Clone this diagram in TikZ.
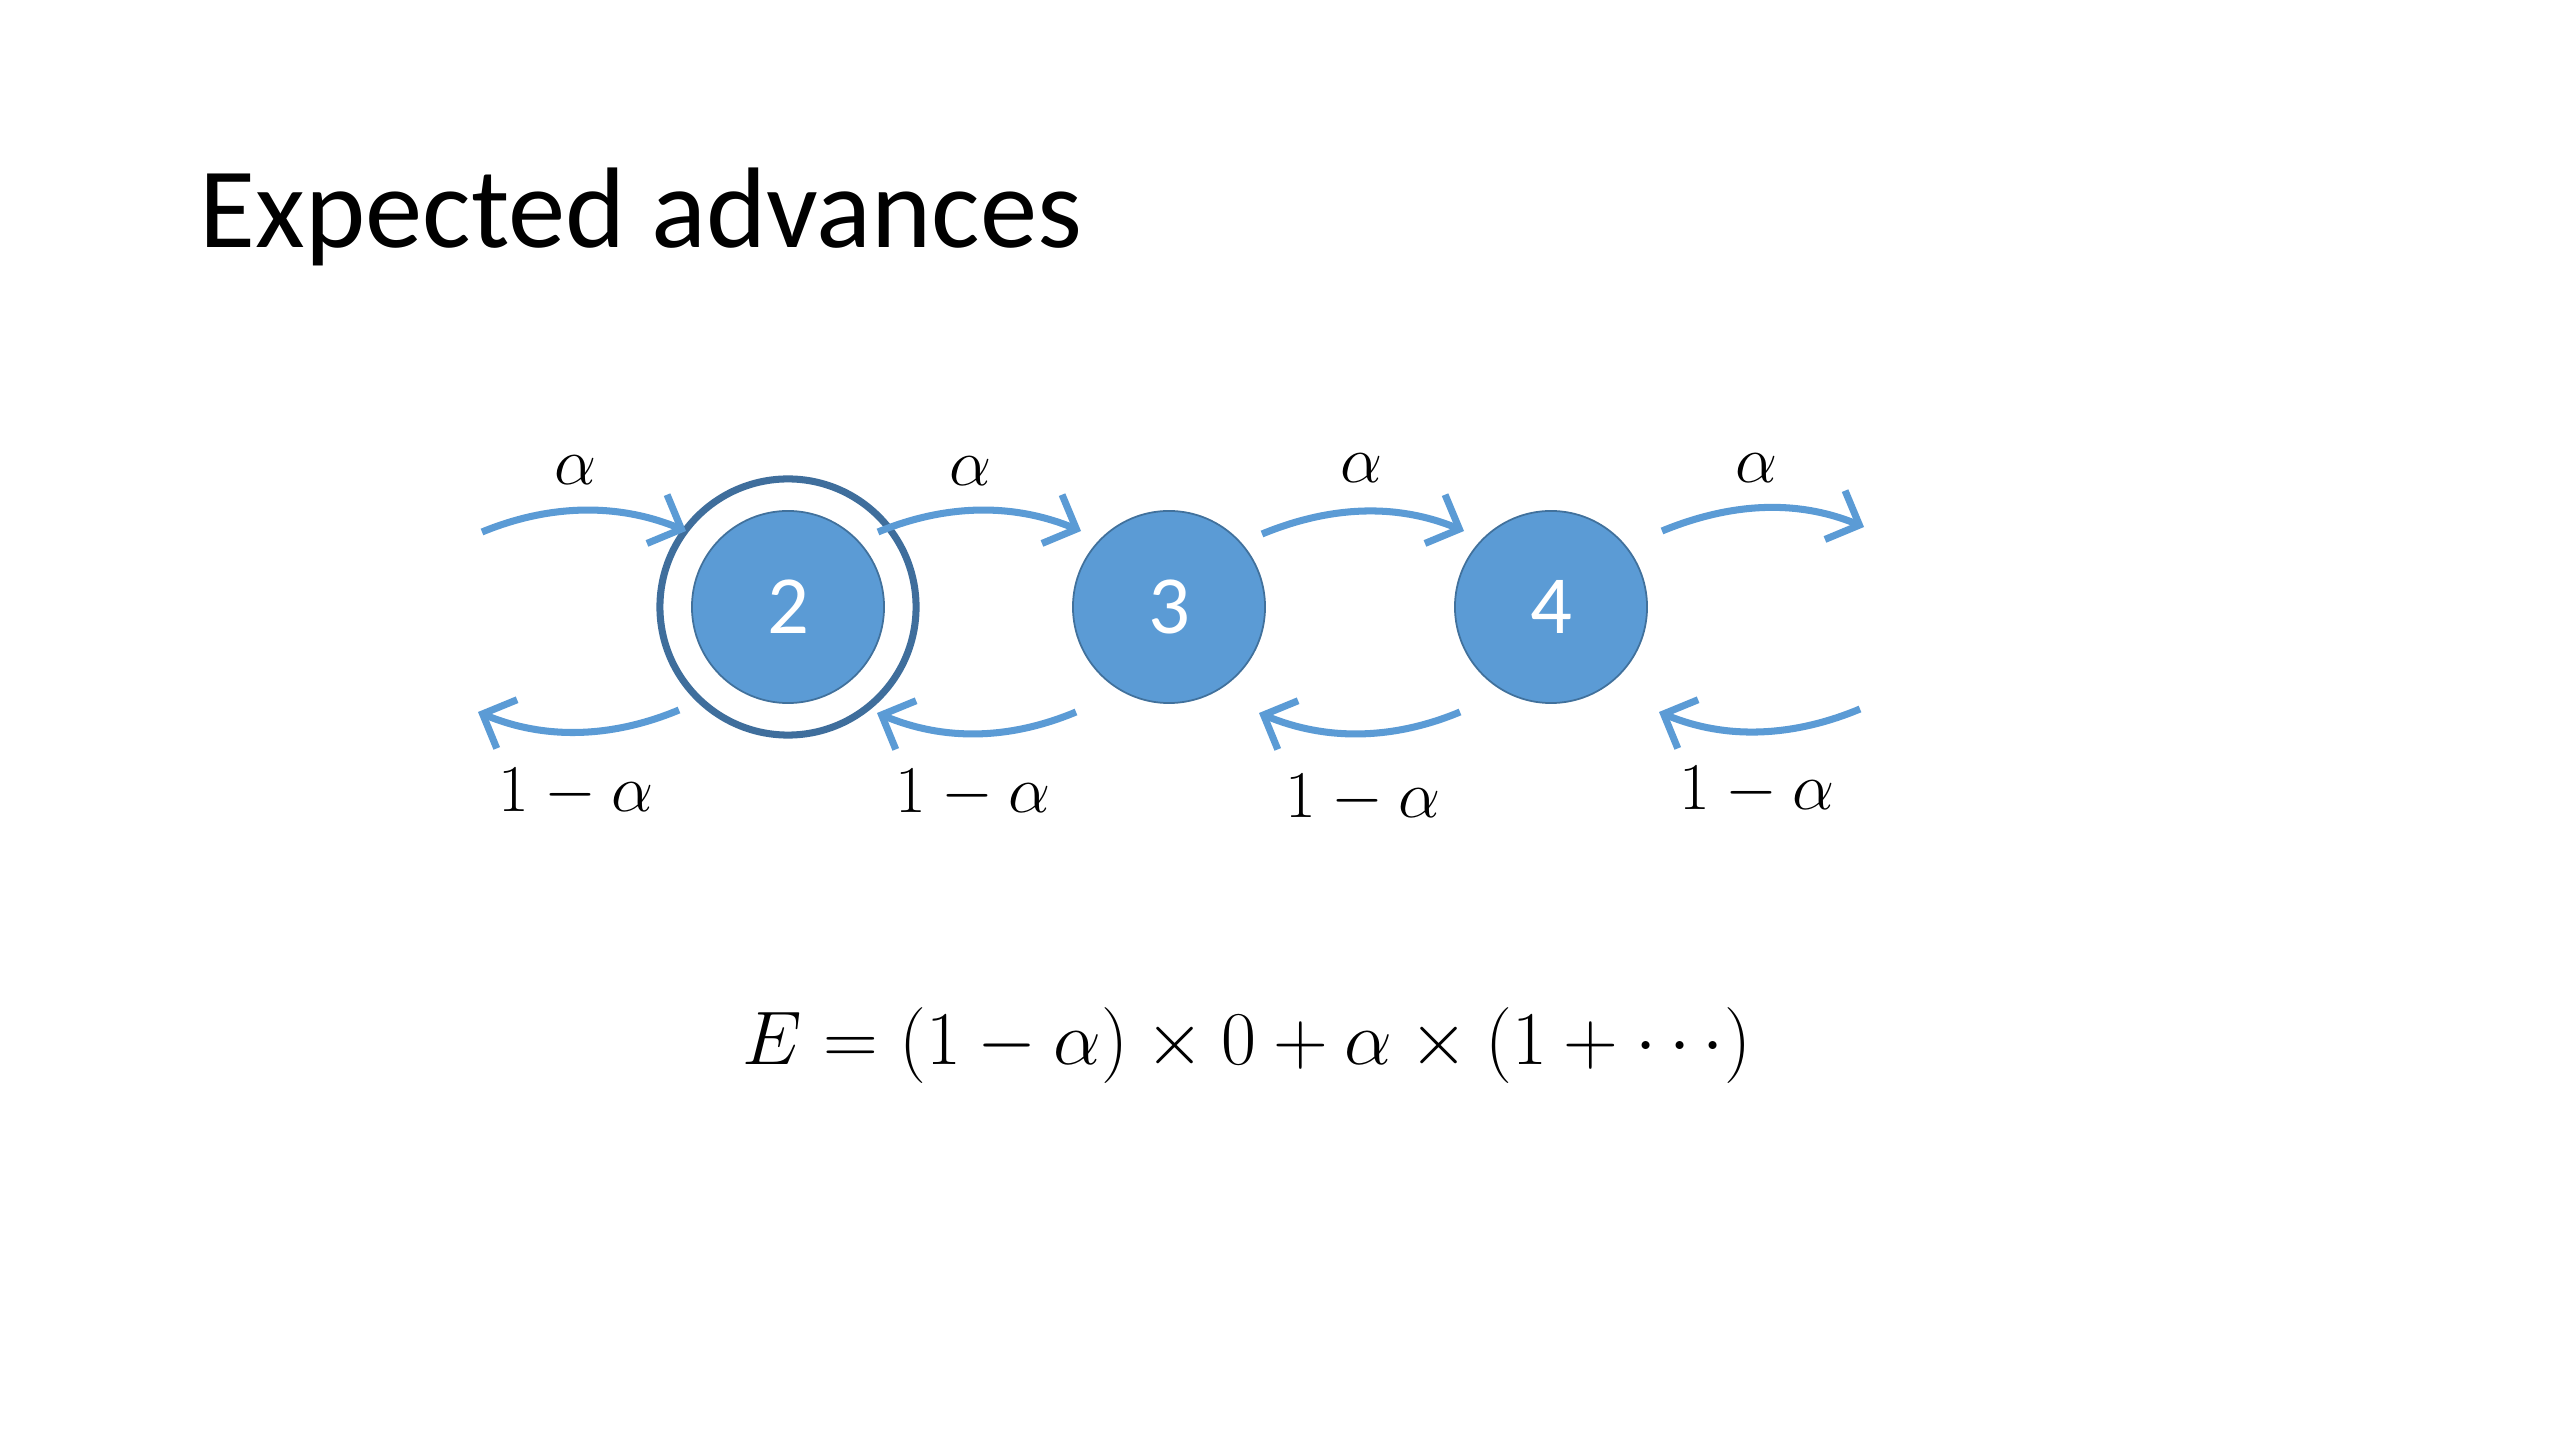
\RequirePackage{fix-cm}
\documentclass[tikz,border=0pt]{standalone}
\usepackage{fontspec}
\setmainfont{Carlito}
\usetikzlibrary{arrows.meta}
\definecolor{fillblue}{HTML}{5B9BD5}
\definecolor{edgeblue}{HTML}{41719C}
\definecolor{ringblue}{HTML}{3F6E9C}
\begin{document}
\begin{tikzpicture}[x=0.01cm,y=-0.01cm,
  state/.style={circle,fill=fillblue,draw=edgeblue,line width=0.5pt,minimum size=1.92cm,inner sep=0pt,text=white,font=\fontsize{23.5}{28}\selectfont},
  ringnode/.style={circle,draw=ringblue,line width=2pt,minimum size=2.56cm,inner sep=0pt},
  flow/.style={draw=fillblue,line width=2pt,-{Straight Barb[length=7.5pt,width=15pt]}},
  lbl/.style={anchor=base,inner sep=0pt,font=\fontsize{19}{23}\selectfont},
  titletext/.style={anchor=base west,inner sep=0pt,font=\fontsize{32.6}{38}\selectfont},
  eqtext/.style={anchor=base,inner sep=0pt,font=\fontsize{21.6}{26}\selectfont}]
\useasboundingbox[fill=white] (0,0) rectangle (2560,1440);
\node[titletext] (title) at (199,248) {Expected advances};

\node[state] (n2) at (788,607) {2};
\node[ringnode] (r2) at (788,607) {};
\node[state] (n3) at (1169,607) {3};
\node[state] (n4) at (1551,607) {4};

% top arcs
\coordinate (t1s) at (482,532); \coordinate (t1e) at (686,531);
\coordinate (t2s) at (878,532); \coordinate (t2e) at (1081,531);
\coordinate (t3s) at (1262,534); \coordinate (t3e) at (1464,531);
\coordinate (t4s) at (1662,531); \coordinate (t4e) at (1864,527);
\draw[flow] (t1s) .. controls +(68,-28) and +(-68,-28) .. (t1e);
\draw[flow] (t2s) .. controls +(68,-28) and +(-68,-28) .. (t2e);
\draw[flow] (t3s) .. controls +(68,-28) and +(-68,-28) .. (t3e);
\draw[flow] (t4s) .. controls +(68,-28) and +(-68,-28) .. (t4e);

% bottom arcs
\coordinate (b1s) at (679,710); \coordinate (b1e) at (478,712);
\coordinate (b2s) at (1076,712); \coordinate (b2e) at (877,713);
\coordinate (b3s) at (1460,712); \coordinate (b3e) at (1259,713);
\coordinate (b4s) at (1860,709); \coordinate (b4e) at (1659,712);
\draw[flow] (b1s) .. controls +(-67,28) and +(67,28) .. (b1e);
\draw[flow] (b2s) .. controls +(-67,28) and +(67,28) .. (b2e);
\draw[flow] (b3s) .. controls +(-67,28) and +(67,28) .. (b3e);
\draw[flow] (b4s) .. controls +(-67,28) and +(67,28) .. (b4e);

% labels
\node[lbl] (la1) at (576,485) {$\alpha$};
\node[lbl] (la2) at (971,486) {$\alpha$};
\node[lbl] (la3) at (1362,483) {$\alpha$};
\node[lbl] (la4) at (1757,483) {$\alpha$};
\node[lbl] (lb1) at (576,811) {$1-\alpha$};
\node[lbl] (lb2) at (973,813) {$1-\alpha$};
\node[lbl] (lb3) at (1363,818) {$1-\alpha$};
\node[lbl] (lb4) at (1757,810) {$1-\alpha$};

\node[eqtext] (eq) at (1247,1064) {$E=(1-\alpha)\times 0+\alpha\times(1+\cdots)$};
\end{tikzpicture}
\end{document}
